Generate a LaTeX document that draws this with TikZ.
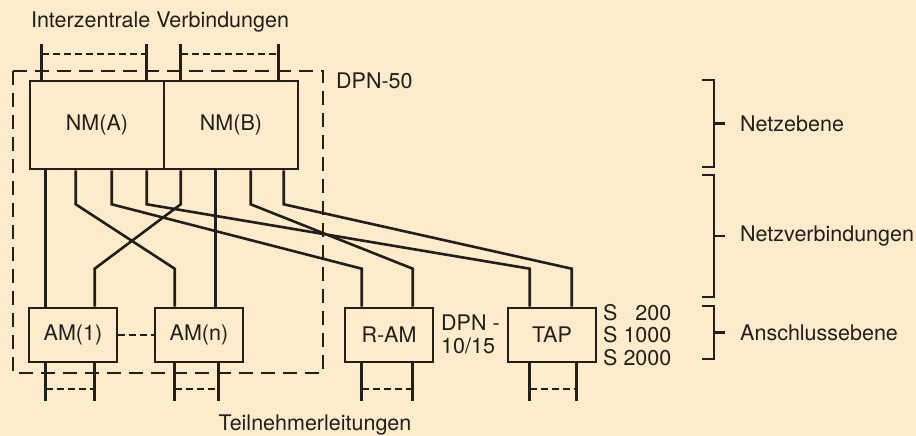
\documentclass[tikz,border=0pt]{standalone}
\usepackage{fontspec}
\setmainfont{TeX Gyre Heros}
\usetikzlibrary{calc}
\definecolor{DPNpaper}{RGB}{252,236,204}
\definecolor{DPNink}{RGB}{34,30,27}
\tikzset{
  dpn text/.style={
    text=DPNink,
    inner sep=0pt,
    font=\fontsize{21.5}{23}\selectfont
  },
  dpn box/.style={
    dpn text,
    draw=DPNink,
    line width=2.6pt,
    minimum width=88pt,
    minimum height=54pt
  },
  dpn core/.style={dpn box,minimum width=134pt,minimum height=88pt},
  dpn wire/.style={draw=DPNink,line width=2.6pt},
  dpn hint/.style={draw=DPNink,line width=2pt,dash pattern=on 7pt off 4pt},
  dpn frame/.style={draw=DPNink,line width=2.6pt,dash pattern=on 14pt off 8pt}
}

\begin{document}
\begin{tikzpicture}[x=1pt,y=-1pt]
  \useasboundingbox (0,0) rectangle (916,436);
  \fill[DPNpaper] (0,0) rectangle (916,436);

  \node[dpn text] (inter) at (160,22) {Interzentrale Verbindungen};
  \node[dpn text] (teiln) at (315,425) {Teilnehmerleitungen};

  % Netzebene
  \node[dpn core] (nma) at (97,125) {NM(A)};
  \node[dpn core] (nmb) at (231,125) {NM(B)};

  % Anschlussebene
  \node[dpn box] (am1) at (73,335) {AM(1)};
  \node[dpn box] (amn) at (199,335) {AM(n)};
  \node[dpn box] (ram) at (389,335) {R-AM};
  \node[dpn box] (tap) at (552,335) {TAP};

  \draw[dpn frame] (13,71) rectangle (323,373);
  \node[dpn text,anchor=west] (dpn50) at (336,81) {DPN-50};
  \node[dpn text,anchor=west,align=left] (dpn10) at (441,334) {DPN -\\10/15};
  \node[dpn text,anchor=west,align=left,font=\fontsize{21.5}{22.5}\selectfont]
    (stypes) at (603,335) {S \phantom{1}200\\S 1000\\S 2000};

  % Netzverbindungen
  \foreach \src/\sx/\dst/\tx in {nma/17/am1/18, nma/47/amn/21, nma/83/ram/18,
      nma/118/tap/23, nmb/18/am1/67, nmb/53/amn/62, nmb/88/ram/69, nmb/121/tap/65}
    \draw[dpn wire] ($(\src.south west)+(\sx,0)$) -- ++(0,34)
      -- ($(\dst.north west)+(\tx,-38)$) -- ($(\dst.north west)+(\tx,0)$);

  \draw[dpn hint] (am1) -- (amn);

  % Leitungen oben und unten
  \foreach \bx/\l/\r in {nma/13/118, nmb/18/116} {
    \draw[dpn wire] ($(\bx.north west)+(\l,0)$) -- ++(0,-36);
    \draw[dpn wire] ($(\bx.north west)+(\r,0)$) -- ++(0,-36);
    \draw[dpn hint] ($(\bx.north west)+(\l,-26)$) -- ($(\bx.north west)+(\r,-26)$);
  }
  \foreach \bx/\l/\r in {am1/18/67, amn/21/65, ram/18/69, tap/23/70} {
    \draw[dpn wire] ($(\bx.south west)+(\l,0)$) -- ++(0,38);
    \draw[dpn wire] ($(\bx.south west)+(\r,0)$) -- ++(0,38);
    \draw[dpn hint] ($(\bx.south west)+(\l,26)$) -- ($(\bx.south west)+(\r,26)$);
  }

  % Ebenen
  \foreach \top/\bot/\txt/\nm in {80/167/Netzebene/lvnetz,
      175/297/Netzverbindungen/lvverb, 306/359/Anschlussebene/lvansch} {
    \node[dpn text,anchor=west] (\nm) at (740,{(\top+\bot)/2}) {\txt};
    \draw[dpn wire] (702,\top) -- (714,\top) -- (714,\bot) -- (702,\bot);
    \draw[dpn wire] (714,{(\top+\bot)/2}) -- (725,{(\top+\bot)/2});
  }
\end{tikzpicture}
\end{document}
